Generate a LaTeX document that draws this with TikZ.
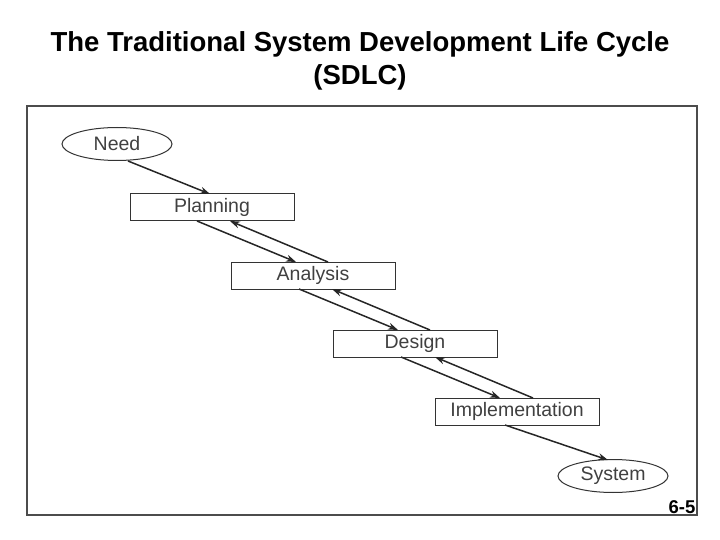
\documentclass[tikz,border=0pt]{standalone}
\usepackage{fontspec}
\setmainfont{Liberation Sans}
\usetikzlibrary{shapes.geometric,arrows.meta}
\begin{document}
\begin{tikzpicture}[x=1pt,y=-1pt,
  stage/.style={draw=black!80,line width=1pt,minimum width=164pt,minimum height=27pt,inner sep=0pt,font=\fontsize{19.5}{22}\selectfont,text=black!75},
  endpt/.style={draw=black!80,line width=1pt,ellipse,minimum width=110pt,minimum height=33pt,inner sep=0pt,font=\fontsize{19.5}{22}\selectfont,text=black!75},
  flow/.style={line width=1.5pt,draw=black!85,-{Stealth[length=10pt,width=7pt]}}]
\useasboundingbox (0,0) rectangle (720,540);
\node (frame) [draw=black!70,line width=1.2pt,minimum width=670pt,minimum height=409pt,inner sep=0pt] at (362,310.5) {};
\node (t1) [font=\bfseries\fontsize{27.5}{32}\selectfont] at (360,44) {The Traditional System Development Life Cycle};
\node (t2) [font=\bfseries\fontsize{27.5}{32}\selectfont] at (360,77) {(SDLC)};
\node (need) [endpt] at (117,144) {Need};
\node (plan) [stage] at (212,207.5) {Planning};
\node (ana) [stage] at (313,275.5) {Analysis};
\node (des) [stage] at (415,343.5) {Design};
\node (imp) [stage] at (517,411.5) {Implementation};
\node (sys) [endpt] at (613,476) {System};
\node (pg) [font=\bfseries\fontsize{18.5}{22}\selectfont] at (682,507) {6-5};
\coordinate (a1) at (128,161); \coordinate (a2) at (210,194);
\draw[flow] (a1) -- (a2);
\coordinate (b1) at (197,221); \coordinate (b2) at (296,262);
\coordinate (b3) at (328,262); \coordinate (b4) at (230,221);
\draw[flow] (b1) -- (b2); \draw[flow] (b3) -- (b4);
\coordinate (c1) at (299,289); \coordinate (c2) at (398,330);
\coordinate (c3) at (430,330); \coordinate (c4) at (332,289);
\draw[flow] (c1) -- (c2); \draw[flow] (c3) -- (c4);
\coordinate (d1) at (401,357); \coordinate (d2) at (500,398);
\coordinate (d3) at (533,398); \coordinate (d4) at (435,357);
\draw[flow] (d1) -- (d2); \draw[flow] (d3) -- (d4);
\coordinate (e1) at (505,425); \coordinate (e2) at (608,460);
\draw[flow] (e1) -- (e2);
\end{tikzpicture}
\end{document}
